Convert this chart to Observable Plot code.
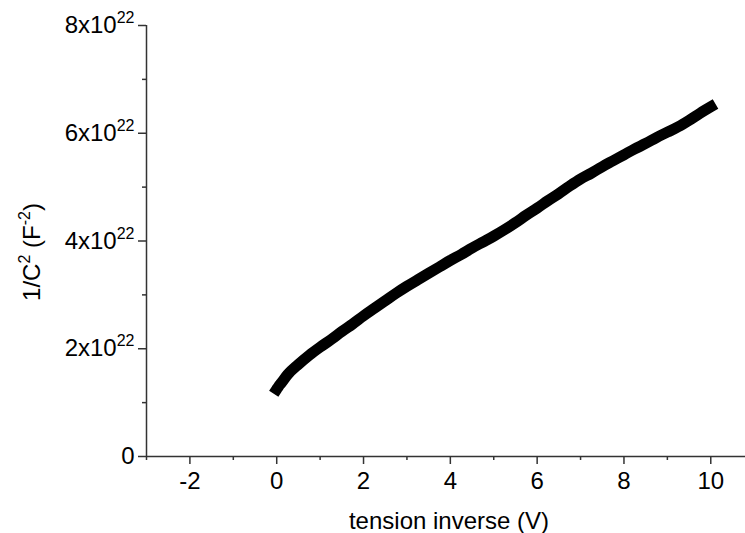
<!DOCTYPE html>
<html>
<head>
<meta charset="utf-8">
<script src="https://cdn.jsdelivr.net/npm/d3@7"></script>
<script src="https://cdn.jsdelivr.net/npm/@observablehq/plot@0.6"></script>
<style>
  html, body { margin: 0; padding: 0; background: #fff; }
  svg { display: block; }
</style>
</head>
<body>
<div id="chart"></div>
<script>
// Reverse bias voltage (V)
const voltage = [0, 0.05, 0.1, 0.25, 0.5, 0.75, 1.0, 1.25, 1.5, 1.75, 2.0, 2.25, 2.5, 2.75, 3.0, 3.25, 3.5, 3.75,
  4.0, 4.25, 4.5, 4.75, 5.0, 5.25, 5.5, 5.75, 6.0, 6.25, 6.5, 6.75, 7.0, 7.25, 7.5, 7.75,
  8.0, 8.25, 8.5, 8.75, 9.0, 9.25, 9.5, 9.75, 10.0];
// 1/C^2 in units of 1e22 F^-2
const invC2 = [1.25, 1.31, 1.36, 1.52, 1.71, 1.88, 2.03, 2.17, 2.32, 2.46, 2.61, 2.75, 2.89, 3.03, 3.16, 3.28, 3.40, 3.52,
  3.64, 3.75, 3.87, 3.98, 4.09, 4.21, 4.34, 4.48, 4.61, 4.75, 4.88, 5.02, 5.15, 5.26, 5.38, 5.49,
  5.60, 5.71, 5.81, 5.92, 6.02, 6.12, 6.24, 6.37, 6.49];

const xMajorTicks = [-2, 0, 2, 4, 6, 8, 10];
const xMinorTicks = [-3, -1, 1, 3, 5, 7, 9];
const yMajorTicks = [0, 2e22, 4e22, 6e22, 8e22];
const yMinorTicks = [1e22, 3e22, 5e22, 7e22];
const xLabel = "tension inverse (V)";

const data = voltage.map((v, i) => ({ v, c: invC2[i] * 1e22 }));

const axisColor = "#333";
const font = "'Liberation Sans', Arial, Helvetica, sans-serif";
const fs = 24;

const plot = Plot.plot({
  width: 745,
  height: 533,
  marginTop: 25,
  marginBottom: 77,
  marginLeft: 146,
  marginRight: 0,
  style: { fontFamily: font, fontSize: fs + "px", color: "#000", background: "#fff", overflow: "visible" },
  x: { domain: [-3, 10.8] },
  y: { domain: [0, 8e22] },
  marks: [
    Plot.line(data, { x: "v", y: "c", stroke: "#000", strokeWidth: 11, strokeLinecap: "square", strokeLinejoin: "round", curve: "monotone-x" }),
    Plot.ruleY([0], { stroke: axisColor, strokeWidth: 1.5 }),
    Plot.ruleX([-3], { stroke: axisColor, strokeWidth: 1.5 }),
    Plot.axisX(xMajorTicks, { tickSize: 8, tickPadding: 7, stroke: axisColor, strokeWidth: 1.5, fill: "#000", fontSize: fs, label: null, tickFormat: d => `${d}` }),
    Plot.axisX(xMinorTicks, { tickSize: 4, stroke: axisColor, strokeWidth: 1.5, label: null, tickFormat: () => "" }),
    Plot.axisY(yMajorTicks, { tickSize: 8, tickPadding: 4, stroke: axisColor, strokeWidth: 1.5, fill: "#000", fontSize: fs, label: null,
      tickFormat: d => d === 0 ? "0" : `${d / 1e22}x10^22` }),
    Plot.axisY(yMinorTicks, { tickSize: 4, stroke: axisColor, strokeWidth: 1.5, label: null, tickFormat: () => "" })
  ]
});

const svg = d3.select(plot);
// superscript exponents in y tick labels
svg.selectAll("text").each(function () {
  const t = this.textContent;
  if (t.includes("^")) {
    const [base, exp] = t.split("^");
    const s = d3.select(this);
    s.text(null);
    s.append("tspan").text(base);
    s.append("tspan").attr("dy", -10).attr("font-size", 16).text(exp);
  }
});

// x axis label
svg.append("text")
  .attr("x", 449).attr("y", 529)
  .attr("text-anchor", "middle")
  .attr("font-size", fs).attr("fill", "#000")
  .text(xLabel);

// y axis label with superscripts
const yl = svg.append("text")
  .attr("transform", "translate(40,252) rotate(-90)")
  .attr("text-anchor", "middle")
  .attr("font-size", fs).attr("fill", "#000");
yl.append("tspan").text("1/C");
yl.append("tspan").attr("dy", -10).attr("font-size", 16).text("2");
yl.append("tspan").attr("dy", 10).text(" (F");
yl.append("tspan").attr("dy", -10).attr("font-size", 16).text("-2");
yl.append("tspan").attr("dy", 10).text(")");

document.getElementById("chart").appendChild(plot);
</script>
</body>
</html>
